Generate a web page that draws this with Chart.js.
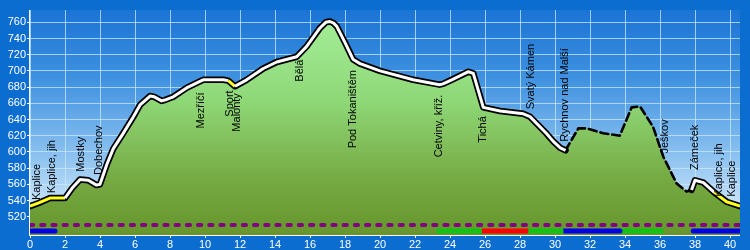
<!DOCTYPE html>
<html>
<head>
<meta charset="utf-8">
<script src="https://cdn.jsdelivr.net/npm/chart.js@4/dist/chart.umd.min.js"></script>
<style>
html,body{margin:0;padding:0;background:#0b6dcf;}
#wrap{width:750px;height:250px;}
</style>
</head>
<body>
<div id="wrap"><canvas id="c" width="750" height="250"></canvas></div>
<script>
// ---- data ----
const distanceKm = [0,0.5,1.14,2.0,2.4,2.86,3.33,3.8,4.0,4.4,4.76,5.3,5.9,6.29,6.86,7.1,7.52,7.7,8.19,8.95,9.71,9.9,11.05,11.33,11.71,12.38,13.33,14.1,15.24,15.8,16.57,16.9,17.14,17.35,17.53,18.0,18.47,18.86,20,21.9,23.4,23.6,24.1,25.05,25.33,25.9,26.86,28.19,28.57,29.5,29.9,30.3,30.6,31.33,31.8,32.76,33.7,34.38,34.86,35.6,36.19,36.95,37.52,37.8,38.0,38.48,39.1,39.8,40.57];
const elevationM = [533,537,543,543,555,566,565,559,560,585,604,622,643,658,669,668,663,664,668,679,687,689,689,688,681,689,703,711,717.5,730,753,760,761,759,755,735,714,709,700,689,683,684,689,699,697,655,650.5,647,643.5,623,613,605,602,629,629,623,620,655,656,631,594,561,551,553,565,562,550,538.5,533];

// road sections (km)
const yellowFrom = [0, 11.33, 39.1];
const yellowTo   = [2.0, 11.71, 40.57];
const unpavedFrom = [30.6];
const unpavedTo   = [37.8];

// marked route bars along the bottom
const barFrom = [0, 23.24, 25.81, 28.47, 30.48, 33.71, 37.9];
const barTo   = [1.43, 25.81, 28.47, 30.48, 33.71, 36.19, 40.57];
const barType = ['blue','green','red','green','blue','green','blue'];

// place names
const placeNames = ['Kaplice','Kaplice, jih','Mostky','Dobechov','Mezříčí','Sport','Malonty','Bělá','Pod Tokaništěm','Cetviny, kříž.','Tichá','Svatý Kámen','Rychnov nad Malší','Ješkov','Zámeček','Kaplice, jih','Kaplice'];
const placeKm    = [0.4,1.24,2.91,3.96,9.75,11.43,11.85,15.43,18.48,23.39,25.9,28.61,30.57,36.29,38.0,39.39,40.1];
const placeLabelElev = [540.6,549,575.6,571.5,629,643.5,625,686.7,604.4,593.3,611.4,652.6,612.6,598,577.7,544.7,544.7];

const xTicks = [0,2,4,6,8,10,12,14,16,18,20,22,24,26,28,30,32,34,36,38,40];
const yTicks = [520,540,560,580,600,620,640,660,680,700,720,740,760];

// ---- build ----
const profile = distanceKm.map((k,i)=>({x:k,y:elevationM[i]}));
const inRanges = (v, from, to) => from.some((f,i)=> v>=f-1e-6 && v<=to[i]+1e-6);
const segMid = ctx => (ctx.p0.parsed.x + ctx.p1.parsed.x)/2;

const barColors = {blue:'#0000e6', green:'#13c313', red:'#ff0000'};
const BAR_LEVEL = 502.3, DASH_LEVEL = 509.8;

const datasets = [];
datasets.push({
  data: profile, order: 10, borderWidth: 0, borderColor:'transparent', pointRadius:0,
  fill: 'start',
  backgroundColor: (c) => {
    const a = c.chart.chartArea; if (!a) return '#7fbf5a';
    const g = c.chart.ctx.createLinearGradient(0,a.top,0,a.bottom);
    g.addColorStop(0,'#a6f09c'); g.addColorStop(0.4,'#8fd878'); g.addColorStop(0.75,'#76aa43'); g.addColorStop(1,'#66962c');
    return g;
  }
});
datasets.push({
  data: [{x:0,y:DASH_LEVEL},{x:40.57,y:DASH_LEVEL}], order:5, borderColor:'#820082', borderWidth:4,
  borderDash:[3.2,8], borderCapStyle:'round', pointRadius:0, fill:false
});
barFrom.forEach((f,i)=>{
  datasets.push({
    data:[{x:f,y:BAR_LEVEL},{x:barTo[i],y:BAR_LEVEL}], order:5,
    borderColor: barColors[barType[i]], borderWidth:5,
    borderCapStyle: barType[i]==='blue' ? 'round':'butt', pointRadius:0, fill:false
  });
});
datasets.push({
  data: profile, order: 2, borderColor:'#000', borderWidth:6.5, pointRadius:0, fill:false,
  borderJoinStyle:'round', borderCapStyle:'round',
  segment: {
    borderDash: ctx => inRanges(segMid(ctx), unpavedFrom, unpavedTo) ? [8,4] : undefined,
    borderWidth: ctx => inRanges(segMid(ctx), unpavedFrom, unpavedTo) ? 2.6 : undefined
  }
});
datasets.push({
  data: profile, order: 1, borderColor:'#fff', borderWidth:3, pointRadius:0, fill:false,
  borderJoinStyle:'round',
  segment: {
    borderColor: ctx => {
      const m = segMid(ctx);
      if (inRanges(m, unpavedFrom, unpavedTo)) return 'rgba(0,0,0,0)';
      if (inRanges(m, yellowFrom, yellowTo)) return '#ffff22';
      return undefined;
    }
  }
});

const skyPlugin = {
  id:'sky',
  beforeDraw(chart){
    const {ctx, chartArea:a} = chart;
    ctx.save();
    ctx.fillStyle = '#0b6dcf';
    ctx.fillRect(0,0,chart.width,chart.height);
    const g = ctx.createLinearGradient(0,a.top,0,a.bottom);
    g.addColorStop(0,'#1a74d4'); g.addColorStop(0.3,'#3f91e0'); g.addColorStop(0.65,'#8cc2f0'); g.addColorStop(1,'#eef7ff');
    ctx.fillStyle = g;
    ctx.fillRect(a.left,a.top,a.right-a.left,a.bottom-a.top);
    ctx.restore();
  },
  afterDatasetsDraw(chart){
    const {ctx, chartArea:a, scales} = chart;
    ctx.save();
    // axes lines
    ctx.strokeStyle = '#fff'; ctx.lineWidth = 1;
    ctx.beginPath();
    ctx.moveTo(a.left-0.5,a.top); ctx.lineTo(a.left-0.5,a.bottom+0.5); ctx.lineTo(a.right,a.bottom+0.5);
    ctx.stroke();
    // place labels
    ctx.fillStyle = '#000';
    ctx.font = '11px "Liberation Sans", Arial, sans-serif';
    ctx.textAlign = 'left'; ctx.textBaseline = 'middle';
    placeNames.forEach((n,i)=>{
      const x = scales.x.getPixelForValue(placeKm[i]);
      const y = scales.y.getPixelForValue(placeLabelElev[i]);
      ctx.save(); ctx.translate(x,y); ctx.rotate(-Math.PI/2); ctx.fillText(n,0,0); ctx.restore();
    });
    ctx.restore();
  }
};

new Chart(document.getElementById('c'), {
  type:'line',
  data:{datasets},
  plugins:[skyPlugin],
  options:{
    responsive:false, animation:false, devicePixelRatio:1,
    layout:{padding:{top:10,right:10,left:0,bottom:0}},
    plugins:{legend:{display:false}, tooltip:{enabled:false}},
    elements:{point:{radius:0}, line:{tension:0}},
    scales:{
      x:{
        type:'linear', min:0, max:40.57,
        afterBuildTicks: s => { s.ticks = xTicks.map(v=>({value:v})); },
        afterFit: s => { s.height = 15; },
        ticks:{color:'#fff', font:{family:'"Liberation Sans", Arial', size:11}, padding:0, maxRotation:0, autoSkip:false},
        grid:{color:'rgba(200,232,255,0.75)', tickColor:'#fff', tickLength:3, lineWidth:1},
        border:{display:false}
      },
      y:{
        type:'linear', min:497.4, max:775.2,
        afterBuildTicks: s => { s.ticks = yTicks.map(v=>({value:v})); },
        afterFit: s => { s.width = 30; },
        ticks:{color:'#fff', font:{family:'"Liberation Sans", Arial', size:11}, padding:1},
        grid:{color:'rgba(200,232,255,0.75)', tickColor:'#fff', tickLength:3, lineWidth:1},
        border:{display:false}
      }
    }
  }
});
</script>
</body>
</html>
